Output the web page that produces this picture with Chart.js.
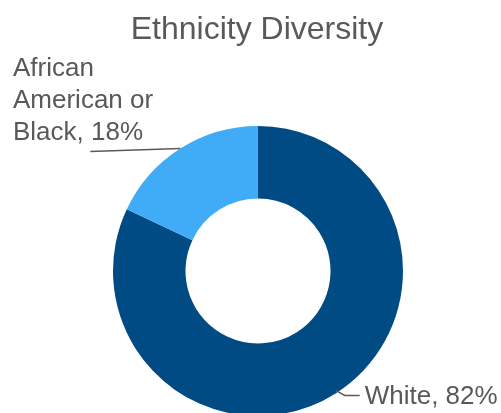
<!DOCTYPE html>
<html>
<head>
<meta charset="utf-8">
<script src="https://cdn.jsdelivr.net/npm/chart.js@4"></script>
<style>
html,body{margin:0;padding:0;background:#fff;overflow:hidden;}
#wrap{position:relative;width:501px;height:430px;}
</style>
</head>
<body>
<div id="wrap"><canvas id="c"></canvas></div>
<script>
const title = "Ethnicity Diversity";
const categories = ["White", "African American or Black"];
const values = [82, 18];
const labelLines = [["White, 82%"], ["African", "American or", "Black, 18%"]];
const colors = ["#004B83", "#40ABF7"];

const labelPlugin = {
  id: 'labels',
  afterDraw(chart) {
    const ctx = chart.ctx;
    const meta = chart.getDatasetMeta(0);
    ctx.save();
    // title
    ctx.fillStyle = '#595959';
    ctx.font = '32px "Liberation Sans", Arial, sans-serif';
    ctx.textAlign = 'center';
    ctx.textBaseline = 'alphabetic';
    ctx.fillText(title, 257, 39);
    ctx.font = '26px "Liberation Sans", Arial, sans-serif';
    ctx.strokeStyle = '#595959';
    ctx.lineWidth = 1.5;
    meta.data.forEach((arc, i) => {
      const p = arc.getProps(['startAngle','endAngle','outerRadius','x','y'], true);
      const mid = (p.startAngle + p.endAngle) / 2;
      const ax = p.x + Math.cos(mid) * p.outerRadius;
      const ay = p.y + Math.sin(mid) * p.outerRadius;
      const lines = labelLines[i];
      ctx.textAlign = 'left';
      if (i === 0) {
        ctx.beginPath();
        ctx.moveTo(ax, ay - 3);
        ctx.lineTo(ax + 9, ay + 2);
        ctx.lineTo(ax + 24, ay + 2);
        ctx.stroke();
        ctx.fillText(lines[0], ax + 29, ay + 11);
      } else {
        ctx.beginPath();
        ctx.moveTo(ax, ay);
        ctx.lineTo(ax - 90, ay + 3);
        ctx.stroke();
        const lh = 32;
        lines.forEach((t, k) => {
          ctx.fillText(t, 13, ay - 9 - (lines.length - 1 - k) * lh);
        });
      }
    });
    ctx.restore();
  }
};

new Chart(document.getElementById('c'), {
  type: 'doughnut',
  data: {
    labels: categories,
    datasets: [{
      data: values,
      backgroundColor: colors,
      borderWidth: 0
    }]
  },
  options: {
    responsive: true,
    maintainAspectRatio: false,
    animation: false,
    cutout: '50%',
    layout: { padding: { left: 113, right: 98, top: 126, bottom: 14 } },
    plugins: {
      legend: { display: false },
      tooltip: { enabled: false },
      title: { display: false }
    }
  },
  plugins: [labelPlugin]
});
</script>
</body>
</html>
